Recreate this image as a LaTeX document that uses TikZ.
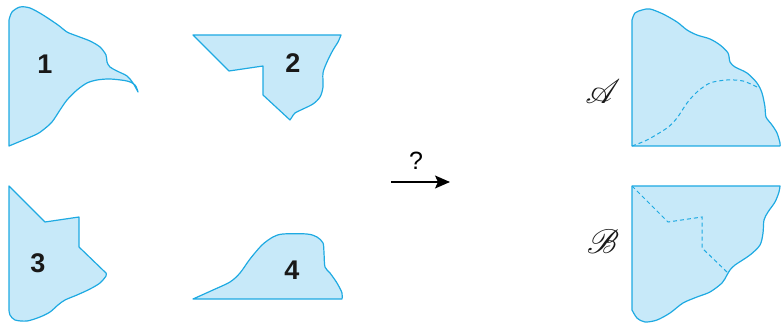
\documentclass[tikz,border=0pt]{standalone}
\usepackage{fontspec}
\usepackage{mathrsfs}
\usetikzlibrary{arrows.meta}
\setsansfont{Liberation Sans}
\definecolor{pfill}{RGB}{199,233,249}
\definecolor{pline}{RGB}{30,170,226}
\newcommand{\bigscr}[1]{\scalebox{3.4}{$\mathscr{#1}$}}
\tikzset{
  piece/.style={fill=pfill, draw=pline, line width=1.2pt, line join=round},
  cutline/.style={draw=pline, line width=1pt, dash pattern=on 4pt off 3pt},
  num/.style={font=\fontsize{27}{27}\selectfont\sffamily\bfseries, text=black!90},
  letter/.style={text=black!90}
}
\begin{document}
\begin{tikzpicture}[x=1pt, y=-1pt, >={Stealth[length=15pt,width=13pt,inset=3pt]}]
  \useasboundingbox (0,0) rectangle (781,323);

  \filldraw[piece] (9,146) -- (9,20)
    -- plot[smooth] coordinates {(9,20) (12,12) (20,7) (30,8) (43,15) (58,25) (67,32) (77,36) (90,41) (100,47) (106,55) (107,62) (110,67) (117,71) (127,76) (133,83) (138,92)}
    -- plot[smooth] coordinates {(138,92) (135,85) (127,81) (110,79) (97,80) (87,83) (77,90) (67,100) (60,110) (52,122) (43,130) (35,135) (9,146)}
    -- cycle;
  \node[num] (n1) at (45,64) {1};

  \filldraw[piece] (341,35) -- (193,35) -- (229,71) -- (263,66) -- (263,95) -- (290,120)
    -- plot[smooth] coordinates {(290,120) (292,117) (295,113) (303,109) (313,104) (320,97) (323,87) (323,73) (327,62) (333,50) (338,42) (341,35)}
    -- cycle;
  \node[num] (n2) at (293,63) {2};

  \filldraw[piece] (9,186) -- (45,222) -- (79,217) -- (79,247) -- (106,273)
    -- plot[smooth] coordinates {(106,273) (106,276) (100,283) (90,289) (77,295) (65,300) (58,305) (50,312) (40,317) (27,321) (15,320) (10,315) (9,310)}
    -- cycle;
  \node[num] (n3) at (38,263) {3};

  \filldraw[piece] (342,299) -- (193,299)
    -- plot[smooth] coordinates {(193,299) (213,290) (230,282) (240,273) (250,259) (262,245) (273,237) (283,234) (307,234) (317,237) (323,243) (324,253) (325,267) (330,273) (337,283) (342,293) (342,299)}
    -- cycle;
  \node[num] (n4) at (292,270) {4};

  \coordinate (arrS) at (391,182);
  \coordinate (arrE) at (450,182);
  \draw[->, line width=1.4pt] (arrS) -- (arrE);
  \node[font=\sffamily] (qm) at (416,161) {\scalebox{2.5}{?}};

  \filldraw[piece] (780,146) -- (632,146) -- (632,20)
    -- plot[smooth] coordinates {(632,20) (635,13) (642,10) (650,9) (663,14) (677,22) (687,30) (697,35) (710,39) (720,45) (728,53) (730,62) (735,67) (747,73) (757,83) (762,93) (765,107) (766,117) (772,125) (777,133) (780,143) (780,146)}
    -- cycle;
  \draw[cutline] plot[smooth] coordinates {(632,146) (647,140) (667,128) (677,118) (687,103) (697,92) (710,83) (727,80) (743,81) (757,87)};
  \node[letter] (la) at (603,92) {\bigscr{A}};

  \filldraw[piece] (632,186) -- (780,186)
    -- plot[smooth] coordinates {(780,186) (779,192) (775,202) (768,212) (764,220) (763,233) (760,245) (750,255) (735,265) (730,270) (727,275) (722,283) (710,292) (697,297) (683,303) (670,313) (657,320) (645,322) (637,318) (632,310)}
    -- cycle;
  \draw[cutline] (632,186) -- (668,222) -- (702,217) -- (702,248) -- (728,273);
  \node[letter] (lb) at (603,242) {\bigscr{B}};
\end{tikzpicture}
\end{document}
